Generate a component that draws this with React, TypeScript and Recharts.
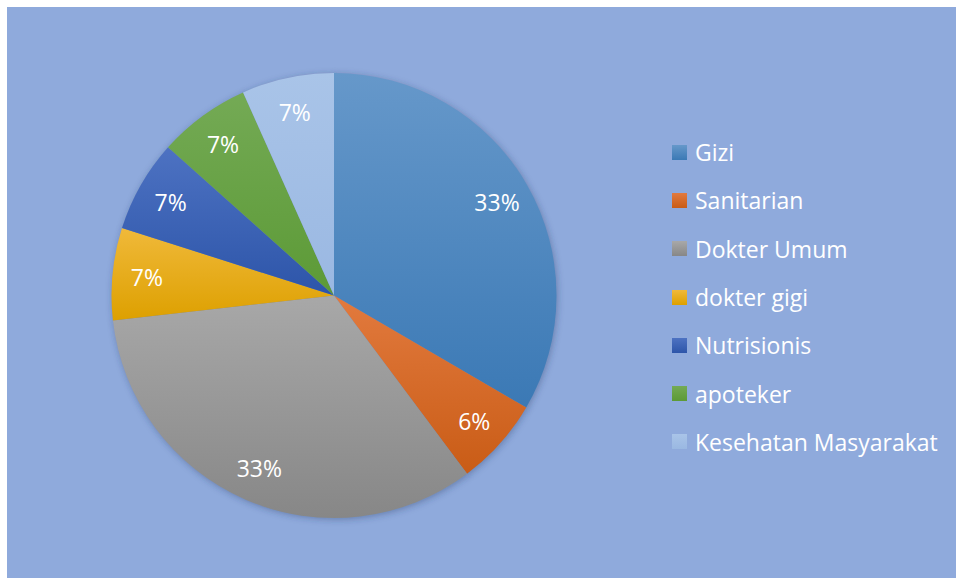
import React from "react";
import { PieChart, Pie, Cell } from "recharts";

const categories = ["Gizi", "Sanitarian", "Dokter Umum", "dokter gigi", "Nutrisionis", "apoteker", "Kesehatan Masyarakat"];
const values = [33.4, 6.4, 33.4, 6.7, 6.7, 6.7, 6.7];
const colorsTop = ["#6698CA", "#E27A3E", "#A8A8A8", "#F0B93A", "#4D72C2", "#74AA55", "#A9C4E8"];
const colorsBottom = ["#3B79B5", "#C95C16", "#878787", "#DDA000", "#2D55A9", "#5C9A36", "#9AB8E2"];

const data = categories.map((name, i) => ({ name, value: values[i] }));

const FONT = "'Open Sans', 'Noto Sans', sans-serif";
const RADIAN = Math.PI / 180;

const renderLabel = (props: any) => {
  const { cx, cy, midAngle, outerRadius, percent } = props;
  const r = outerRadius * 0.845;
  const x = cx + r * Math.cos(-midAngle * RADIAN);
  const y = cy + r * Math.sin(-midAngle * RADIAN);
  return (
    <text x={x} y={y} fill="#FFFFFF" textAnchor="middle" dominantBaseline="central" fontFamily={FONT} fontSize={23}>
      {`${Math.round(percent * 100)}%`}
    </text>
  );
};

export default function App() {
  return (
    <div style={{ position: "fixed", left: 7, top: 7, width: 949, height: 571, background: "#8FAADC" }}>
      <PieChart width={949} height={571} margin={{ top: 0, right: 0, bottom: 0, left: 0 }}>
        <defs>
          {colorsTop.map((c, i) => (
            <linearGradient key={i} id={`g${i}`} x1="0" y1="0" x2="0" y2="1">
              <stop offset="0%" stopColor={c} />
              <stop offset="100%" stopColor={colorsBottom[i]} />
            </linearGradient>
          ))}
          <filter id="blur" x="-20%" y="-20%" width="140%" height="140%">
            <feGaussianBlur stdDeviation="3" />
          </filter>
        </defs>
        <Pie
          data={data}
          dataKey="value"
          nameKey="name"
          cx={328}
          cy={290}
          outerRadius={223}
          startAngle={90}
          endAngle={-270}
          stroke="none"
          fill="#2A3F66"
          fillOpacity={0.35}
          filter="url(#blur)"
          label={false}
          labelLine={false}
          isAnimationActive={false}
        />
        <Pie
          data={data}
          dataKey="value"
          nameKey="name"
          cx={327}
          cy={288.5}
          outerRadius={222.5}
          startAngle={90}
          endAngle={-270}
          stroke="none"
          labelLine={false}
          label={renderLabel}
          isAnimationActive={false}
        >
          {data.map((d, i) => (
            <Cell key={d.name} fill={`url(#g${i})`} />
          ))}
        </Pie>
      </PieChart>
      <div style={{ position: "absolute", left: 665, top: 121, display: "flex", flexDirection: "column" }}>
        {categories.map((name, i) => (
          <div key={name} style={{ display: "flex", alignItems: "center", height: 48.3 }}>
            <div
              style={{
                width: 15,
                height: 15,
                background: `linear-gradient(${colorsTop[i]}, ${colorsBottom[i]})`,
                marginRight: 8,
              }}
            />
            <span style={{ color: "#FFFFFF", fontFamily: FONT, fontSize: 23, whiteSpace: "nowrap", lineHeight: "30px" }}>{name}</span>
          </div>
        ))}
      </div>
    </div>
  );
}
